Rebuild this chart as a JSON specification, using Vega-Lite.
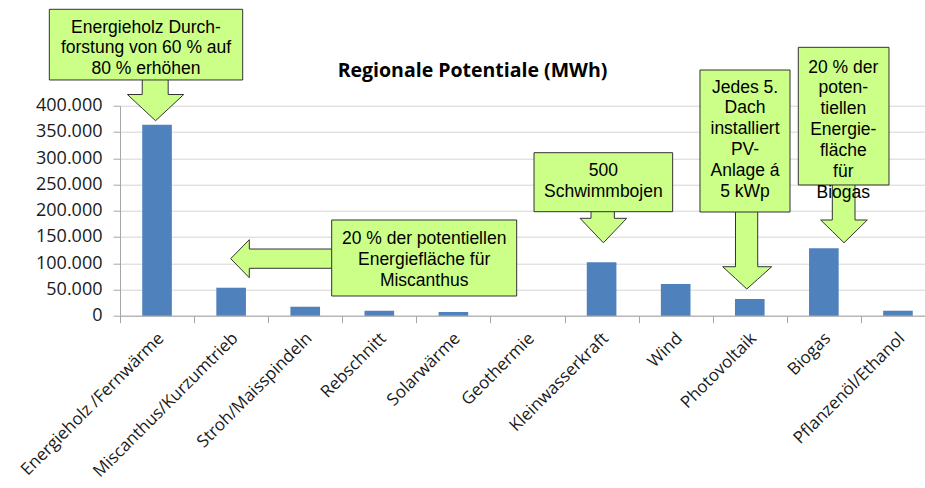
{
  "$schema": "https://vega.github.io/schema/vega-lite/v6.json",
  "autosize": {"type": "none"},
  "padding": {"left": 120, "top": 105.7, "right": 0, "bottom": 172.3},
  "width": 805,
  "height": 210,
  "background": "white",
  "title": {
    "text": "Regionale Potentiale (MWh)",
    "font": "Open Sans",
    "fontSize": 19.5,
    "fontWeight": "bold",
    "color": "#000000",
    "anchor": "middle",
    "frame": "group",
    "dx": -50,
    "offset": -73
  },
  "config": {
    "view": {"stroke": null}
  },
  "layer": [
    {
      "data": {
        "values": [
          {"kategorie": "Energieholz /Fernwärme", "mwh": 363800},
          {"kategorie": "Miscanthus/Kurzumtrieb", "mwh": 53300},
          {"kategorie": "Stroh/Maisspindeln", "mwh": 17100},
          {"kategorie": "Rebschnitt", "mwh": 9500},
          {"kategorie": "Solarwärme", "mwh": 7000},
          {"kategorie": "Geothermie", "mwh": 0},
          {"kategorie": "Kleinwasserkraft", "mwh": 101700},
          {"kategorie": "Wind", "mwh": 60400},
          {"kategorie": "Photovoltaik", "mwh": 31800},
          {"kategorie": "Biogas", "mwh": 128400},
          {"kategorie": "Pflanzenöl/Ethanol", "mwh": 9500}
        ]
      },
      "mark": {"type": "bar", "color": "#4f81bd"},
      "encoding": {
        "x": {
          "field": "kategorie",
          "type": "nominal",
          "sort": null,
          "scale": {"paddingInner": 0.6, "paddingOuter": 0.3, "range": [0, 815]},
          "axis": {
            "title": null,
            "labelAngle": -45,
            "labelAlign": "right",
            "labelBaseline": "top",
            "labelFont": "Open Sans",
            "labelFontSize": 17,
            "labelColor": "#1a1a1a",
            "labelPadding": 7,
            "labelOverlap": false,
            "labelLimit": 0,
            "tickSize": 7,
            "tickOffset": -37.05,
            "labelOffset": 35,
            "tickColor": "#a6a6a6",
            "domainColor": "#a6a6a6",
            "grid": false
          }
        },
        "y": {
          "field": "mwh",
          "type": "quantitative",
          "scale": {"domain": [0, 400000], "nice": false},
          "axis": {
            "title": null,
            "values": [0, 50000, 100000, 150000, 200000, 250000, 300000, 350000, 400000],
            "labelExpr": "replace(format(datum.value, ',d'), ',', '.')",
            "labelFont": "Open Sans",
            "labelFontSize": 18,
            "labelColor": "#1a1a1a",
            "labelPadding": 11,
            "tickSize": 7,
            "tickColor": "#a6a6a6",
            "domainColor": "#a6a6a6",
            "grid": true,
            "gridColor": "#d6d6d6"
          }
        }
      }
    },
    {
      "layer": [
        {
          "data": {
            "values": [
              {"pfeil": "a1", "slot": 0.10, "mwh": 421300, "mwh_bis": 421300},
              {"pfeil": "a1", "slot": 0.30, "mwh": 421300, "mwh_bis": 395050},
              {"pfeil": "a1", "slot": 0.3005, "mwh": 455000, "mwh_bis": 395050},
              {"pfeil": "a1", "slot": 0.48, "mwh": 455000, "mwh_bis": 371400},
              {"pfeil": "a1", "slot": 0.65, "mwh": 455000, "mwh_bis": 393720},
              {"pfeil": "a1", "slot": 0.6505, "mwh": 421300, "mwh_bis": 393720},
              {"pfeil": "a1", "slot": 0.86, "mwh": 421300, "mwh_bis": 421300},
              {"pfeil": "a2", "slot": 1.494, "mwh": 108600, "mwh_bis": 108600},
              {"pfeil": "a2", "slot": 1.745, "mwh": 144800, "mwh_bis": 72400},
              {"pfeil": "a2", "slot": 1.7455, "mwh": 127000, "mwh_bis": 90300},
              {"pfeil": "a2", "slot": 3.0, "mwh": 127000, "mwh_bis": 90300},
              {"pfeil": "a3", "slot": 6.209, "mwh": 185500, "mwh_bis": 185500},
              {"pfeil": "a3", "slot": 6.357, "mwh": 185500, "mwh_bis": 163600},
              {"pfeil": "a3", "slot": 6.3575, "mwh": 205000, "mwh_bis": 163600},
              {"pfeil": "a3", "slot": 6.524, "mwh": 205000, "mwh_bis": 138900},
              {"pfeil": "a3", "slot": 6.672, "mwh": 205000, "mwh_bis": 160800},
              {"pfeil": "a3", "slot": 6.6725, "mwh": 185500, "mwh_bis": 160800},
              {"pfeil": "a3", "slot": 6.839, "mwh": 185500, "mwh_bis": 185500},
              {"pfeil": "a4", "slot": 8.135, "mwh": 93300, "mwh_bis": 93300},
              {"pfeil": "a4", "slot": 8.307, "mwh": 93300, "mwh_bis": 70870},
              {"pfeil": "a4", "slot": 8.3075, "mwh": 205000, "mwh_bis": 70870},
              {"pfeil": "a4", "slot": 8.46, "mwh": 205000, "mwh_bis": 50900},
              {"pfeil": "a4", "slot": 8.607, "mwh": 205000, "mwh_bis": 69450},
              {"pfeil": "a4", "slot": 8.6075, "mwh": 93300, "mwh_bis": 69450},
              {"pfeil": "a4", "slot": 8.796, "mwh": 93300, "mwh_bis": 93300},
              {"pfeil": "a5", "slot": 9.457, "mwh": 182300, "mwh_bis": 182300},
              {"pfeil": "a5", "slot": 9.614, "mwh": 182300, "mwh_bis": 160700},
              {"pfeil": "a5", "slot": 9.6145, "mwh": 255000, "mwh_bis": 160700},
              {"pfeil": "a5", "slot": 9.772, "mwh": 255000, "mwh_bis": 138900},
              {"pfeil": "a5", "slot": 9.920, "mwh": 255000, "mwh_bis": 159340},
              {"pfeil": "a5", "slot": 9.9205, "mwh": 182300, "mwh_bis": 159340},
              {"pfeil": "a5", "slot": 10.086, "mwh": 182300, "mwh_bis": 182300}
            ]
          },
          "mark": {"type": "area", "orient": "vertical", "interpolate": "linear", "fill": "#ccff88", "fillOpacity": 1, "stroke": "#333333", "strokeWidth": 1},
          "encoding": {
            "x": {"field": "slot", "type": "quantitative", "scale": {"domain": [0, 11], "range": [0, 815], "nice": false, "zero": false}, "axis": null},
            "y": {"field": "mwh", "type": "quantitative", "stack": null, "scale": {"domain": [0, 400000], "nice": false}, "axis": null},
            "y2": {"field": "mwh_bis"},
            "detail": {"field": "pfeil", "type": "nominal"}
          }
        },
        {
          "data": {
            "values": [
              {"kasten": "b1", "slot": -0.954, "slot_bis": 1.656, "mwh": 583600, "mwh_bis": 449000},
              {"kasten": "b2", "slot": 2.857, "slot_bis": 5.354, "mwh": 182300, "mwh_bis": 37500},
              {"kasten": "b3", "slot": 5.588, "slot_bis": 7.459, "mwh": 310500, "mwh_bis": 198100},
              {"kasten": "b4", "slot": 7.828, "slot_bis": 9.043, "mwh": 468000, "mwh_bis": 197500},
              {"kasten": "b5", "slot": 9.155, "slot_bis": 10.379, "mwh": 511200, "mwh_bis": 249000}
            ]
          },
          "mark": {"type": "rect", "fill": "#ccff88", "stroke": "#333333", "strokeWidth": 1},
          "encoding": {
            "x": {"field": "slot", "type": "quantitative", "scale": {"domain": [0, 11], "range": [0, 815], "nice": false, "zero": false}, "axis": null},
            "x2": {"field": "slot_bis"},
            "y": {"field": "mwh", "type": "quantitative", "scale": {"domain": [0, 400000], "nice": false}, "axis": null},
            "y2": {"field": "mwh_bis"}
          }
        },
        {
          "data": {
            "values": [
              {"slot": 0.351, "mwh": 548900, "hinweis": "Energieholz Durch-\nforstung von 60 % auf\n80 % erhöhen"},
              {"slot": 4.105, "mwh": 145400, "hinweis": "20 % der potentiellen\nEnergiefläche für\nMiscanthus"},
              {"slot": 6.524, "mwh": 276000, "hinweis": "500\nSchwimmbojen"},
              {"slot": 8.436, "mwh": 434600, "hinweis": "Jedes 5.\nDach\ninstalliert\nPV-\nAnlage á\n5 kWp"},
              {"slot": 9.762, "mwh": 472700, "hinweis": "20 % der\npoten-\ntiellen\nEnergie-\nfläche\nfür\nBiogas"}
            ]
          },
          "mark": {"type": "text", "font": "Liberation Sans", "fontSize": 17.5, "color": "#000000", "align": "center", "baseline": "middle", "lineBreak": "\n", "lineHeight": 20.9},
          "encoding": {
            "x": {"field": "slot", "type": "quantitative", "scale": {"domain": [0, 11], "range": [0, 815], "nice": false, "zero": false}, "axis": null},
            "y": {"field": "mwh", "type": "quantitative", "scale": {"domain": [0, 400000], "nice": false}, "axis": null},
            "text": {"field": "hinweis", "type": "nominal"}
          }
        }
      ]
    }
  ],
  "resolve": {"scale": {"x": "independent", "y": "independent"}}
}
